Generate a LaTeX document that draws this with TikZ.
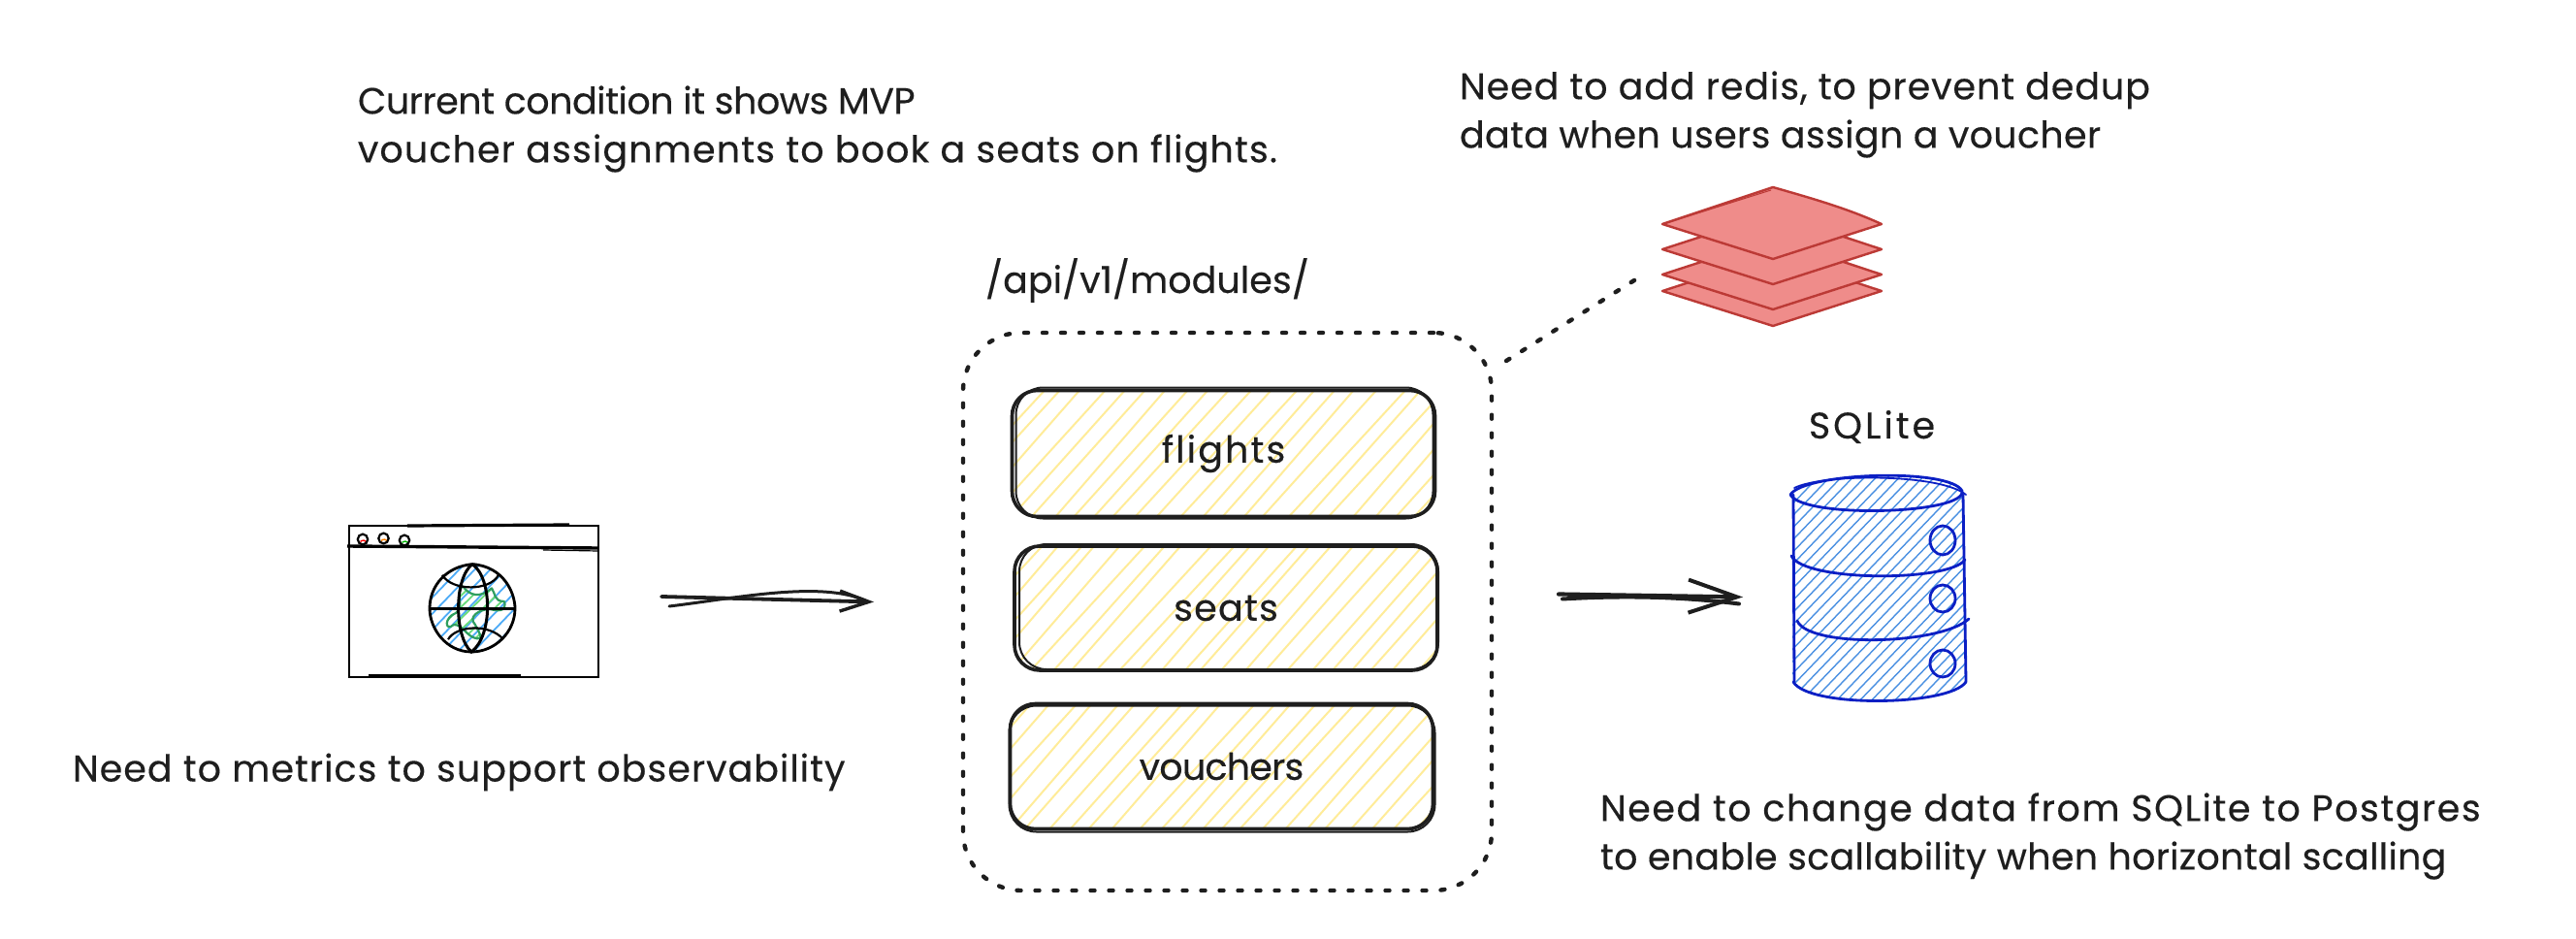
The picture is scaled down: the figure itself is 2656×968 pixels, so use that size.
\documentclass[tikz,border=0pt]{standalone}
\usepackage{fontspec}
\setmainfont[LetterSpace=3.3,FakeBold=0.3]{Poppins}
\usetikzlibrary{calc,arrows.meta}
\definecolor{ink}{HTML}{1E1E1E}
\definecolor{yhatch}{HTML}{FFEC99}
\definecolor{bhatch}{HTML}{4A90E2}
\definecolor{gbl}{HTML}{4DABF7}
\definecolor{gstroke}{HTML}{2F9E5F}
\definecolor{ghatch}{HTML}{69DB7C}
\definecolor{dbstroke}{HTML}{0B1FC4}
\definecolor{rfill}{HTML}{EF8C8A}
\definecolor{rstroke}{HTML}{BC3A36}
\newcommand{\lsp}[2]{{\addfontfeature{LetterSpace=#1}#2}}
\newcommand{\hatchbox}{%
  \foreach \d in {-160,-138,...,460} {
    \pgfmathsetmacro{\wa}{rand*5}\pgfmathsetmacro{\wb}{rand*5}
    \draw[yhatch,line width=1pt]
      ($(path picture bounding box.south west)+(\d+\wa,4)$) -- ++(130+\wb,-146);
  }%
}
\newcommand{\roughbox}[5]{%
  \draw[sketch,rounded corners=14pt]
    ($(#1.north west)+(#2,#3)$) rectangle ($(#1.south east)+(#4,#5)$);
}
\tikzset{
  sketch/.style={draw=ink,line width=1pt,line cap=round,line join=round},
  label/.style={font=\fontsize{19pt}{25pt}\selectfont,text=ink,inner sep=0pt,outer sep=0pt,align=left},
  modbox/.style={draw=ink,line width=1.8pt,rounded corners=13pt,minimum width=218pt,minimum height=65pt,
    inner sep=0pt,outer sep=0pt,text=ink,font=\fontsize{19pt}{22pt}\selectfont,
    path picture={\hatchbox}},
  groupbox/.style={draw=ink,line width=2.2pt,line cap=round,dash pattern=on 2pt off 7.5pt,
    rounded corners=30pt,minimum width=272.5pt,minimum height=287.5pt,inner sep=0pt,outer sep=0pt},
  browserbox/.style={draw=black,line width=1.4pt,minimum width=128.5pt,minimum height=78pt,inner sep=0pt,outer sep=0pt},
  area/.style={inner sep=0pt,outer sep=0pt},
  conn/.style={draw=ink,line width=1.9pt,line cap=round,
    -{Straight Barb[length=15pt,width=10.5pt,line width=1.7pt]}},
  connbig/.style={draw=ink,line width=2.1pt,line cap=round,
    -{Straight Barb[length=25pt,width=17pt,line width=2pt]}},
  wob/.style={draw=ink,line width=1.5pt,line cap=round},
  wobbig/.style={draw=ink,line width=2pt,line cap=round},
  dotconn/.style={draw=ink,line width=2.2pt,line cap=round,dash pattern=on 2pt off 7.5pt},
  redislayer/.style={fill=rfill,draw=rstroke,line width=1.2pt,line join=round},
  dbline/.style={draw=dbstroke,line width=1.4pt,line cap=round,line join=round},
}
\begin{document}
\begin{tikzpicture}[x=0.5pt,y=-0.5pt]
\pgfmathsetseed{7}
\useasboundingbox (0,0) rectangle (2656,968);
\fill[white] (0,0) rectangle (2656,968);

% labels
\node[label,anchor=west] (cond) at (369,133) {\lsp{-1.2}{Current condition it shows MVP}\\\lsp{3}{voucher assignments to book a seats on flights.}};
\node[label,anchor=west] (need) at (1505,118) {\lsp{2.5}{Need to add redis, to prevent dedup}\\\lsp{0.9}{data when users assign a voucher}};
\node[label,anchor=west] (api) at (1016,289) {\lsp{0.2}{/api/v1/modules/}};
\node[label,anchor=center] (sql) at (1930,440) {\lsp{7.8}{SQLite}};
\node[label,anchor=west] (metrics) at (75,796) {\lsp{2.75}{Need to metrics to support observability}};
\node[label,anchor=west] (change) at (1650,862) {\lsp{4.1}{Need to change data from SQLite to Postgres}\\\lsp{0.8}{to enable scallability when horizontal scalling}};

% modules group
\node[groupbox] (modules) at (1265.5,630.5) {};
\node[modbox] (flights) at (1261.5,467.5) {\lsp{5.6}{flights}};
\node[modbox,minimum height=64pt] (seats) at (1264,627) {seats};
\node[modbox,minimum height=64.5pt] (vouchers) at (1259.5,790) {\lsp{-2}{vouchers}};
\roughbox{flights}{4}{-3}{-2}{2}
\roughbox{seats}{5}{-2}{1}{-1}
\roughbox{vouchers}{-1}{2}{2}{3}

% browser
\node[browserbox] (browser) at (488.5,620) {};
\draw[draw=black,line width=1.7pt] ($(browser.north west)+(-2,21)$) -- ($(browser.north east)+(0,23)$);
\draw[draw=black,line width=0.6pt] ($(browser.north west)+(200,25)$) -- ($(browser.north east)+(0,26)$);
\draw[draw=black,line width=1.6pt] ($(browser.north west)+(60,0)$) -- ($(browser.north east)+(-30,-1)$);
\draw[draw=black,line width=1.7pt] ($(browser.south west)+(20,-1)$) -- ($(browser.south east)+(-80,-1)$);
\foreach \cx/\cy/\cc in {374/556/red,395.5/555/orange,417/557/green!70!black} {
  \draw[\cc,line width=0.7pt] (\cx-2.5,\cy+2.5) arc[start angle=220,end angle=320,radius=4];
  \draw[black,line width=1.1pt] (\cx,\cy) ellipse[x radius=5.2,y radius=5.4];
}
% globe
\node[area,minimum width=45pt,minimum height=46pt] (globe) at (487,627) {};
\begin{scope}[shift={(0,100)},yscale=0.8]
\begin{scope}
  \clip (487,659) ellipse[x radius=44,y radius=57];
  \foreach \d in {-60,-44,...,190}
    \draw[gbl,line width=0.9pt] (\d+400,720) -- ++(100,-130);
\end{scope}
\begin{scope}
  \clip (477,630) .. controls (484,643) and (495,646) .. (507,633) .. controls (511,640) and (509,650) .. (520,650)
    .. controls (522,660) and (518,664) .. (505,660) .. controls (494,660) and (482,670) .. (490,680)
    .. controls (496,695) and (498,698) .. (492,698) .. controls (480,695) and (478,680) .. (468,680)
    .. controls (458,690) and (458,670) .. (470,665) .. controls (480,655) and (468,640) .. (477,630);
  \foreach \d in {-40,-28,...,100}
    \draw[ghatch,line width=0.9pt] (\d+440,720) -- ++(90,-110);
\end{scope}
\draw[gstroke,line width=1.1pt,line join=round]
  (477,630) .. controls (484,643) and (495,646) .. (507,633) .. controls (511,640) and (509,650) .. (520,650)
  .. controls (522,660) and (518,664) .. (505,660) .. controls (494,660) and (482,670) .. (490,680)
  .. controls (496,695) and (498,698) .. (492,698) .. controls (480,695) and (478,680) .. (468,680)
  .. controls (458,690) and (458,670) .. (470,665) .. controls (480,655) and (468,640) .. (477,630);
\draw[black,line width=1.4pt] (487,602) .. controls (520,605) and (531,640) .. (531,659)
  .. controls (531,690) and (510,715) .. (486,715) .. controls (460,715) and (443,685) .. (443,659)
  .. controls (443,630) and (460,605) .. (487,602);
\draw[black,line width=1.5pt] (487,602) .. controls (468,620) and (468,695) .. (486,715)
  .. controls (508,695) and (508,620) .. (487,602);
\draw[black,line width=1.3pt] (443,659) -- (531,659);
\draw[black,line width=1.1pt] (456,616) .. controls (466,637) and (505,637) .. (514,616);
\draw[black,line width=1.1pt] (462,699) .. controls (470,681) and (505,678) .. (519,699);
\end{scope}

% redis
\node[area,minimum width=113pt,minimum height=71.5pt] (redis) at (1827,264.5) {};
\foreach \ly in {300,283,257} {
  \draw[redislayer] (1714,\ly) -- (1828,\ly-37) -- (1940,\ly) -- (1828,\ly+36) -- cycle;
}
\draw[redislayer] (1714,231) -- (1828,193) .. controls (1870,205) and (1905,215) .. (1940,231) -- (1828,267) -- cycle;
\draw[rstroke,line width=0.5pt] (1718,230) -- (1826,196);

% database
\node[area,minimum width=90pt,minimum height=115pt] (db) at (1938,605.5) {};
\begin{scope}
  \clip (1848,510) .. controls (1860,485) and (2015,482) .. (2025,508) -- (2027,703)
    .. controls (2015,730) and (1860,730) .. (1848,703) -- cycle;
  \foreach \d in {-250,-238,...,190}
    \draw[bhatch,line width=0.7pt] (\d+1860,730) -- ++(240,-250);
\end{scope}
\draw[dbline] (1846,510) .. controls (1860,487) and (2010,482) .. (2023,506) .. controls (2028,530) and (1860,535) .. (1846,510);
\draw[dbline,line width=0.9pt] (1850,503) .. controls (1880,488) and (2000,488) .. (2027,510);
\draw[dbline] (1849,510) -- (1850,703);
\draw[dbline] (2024,510) -- (2027,703);
\draw[dbline] (1847,573) .. controls (1860,600) and (2010,600) .. (2026,577);
\draw[dbline] (1853,640) .. controls (1865,668) and (2000,665) .. (2030,638);
\draw[dbline] (1849,703) .. controls (1865,730) and (2010,728) .. (2027,703);
\draw[dbline] (2003,557) ellipse[x radius=13,y radius=15];
\draw[dbline] (2003,617) ellipse[x radius=13,y radius=14];
\draw[dbline] (2003,684) ellipse[x radius=13,y radius=14];

% connectors
\draw[conn] ($(browser.east)+(65,-5)$) -- ($(modules.west)+(-92,-10)$);
\draw[wob] ($(browser.east)+(73,5)$) .. controls ($(browser.east)+(140,-3)$) and ($(browser.east)+(230,-22)$) .. ($(modules.west)+(-100,-11)$);
\draw[connbig] ($(modules.east)+(69,-18)$) -- ($(db.west)+(-51,10)$);
\draw[wobbig] ($(modules.east)+(73,-13)$) .. controls ($(modules.east)+(140,-17)$) and ($(modules.east)+(200,-15)$) .. ($(db.west)+(-55,17)$);
\draw[dotconn] ($(modules.north east)+(15,29)$) -- ($(redis.south west)+(-21,-52)$);
\end{tikzpicture}
\end{document}
